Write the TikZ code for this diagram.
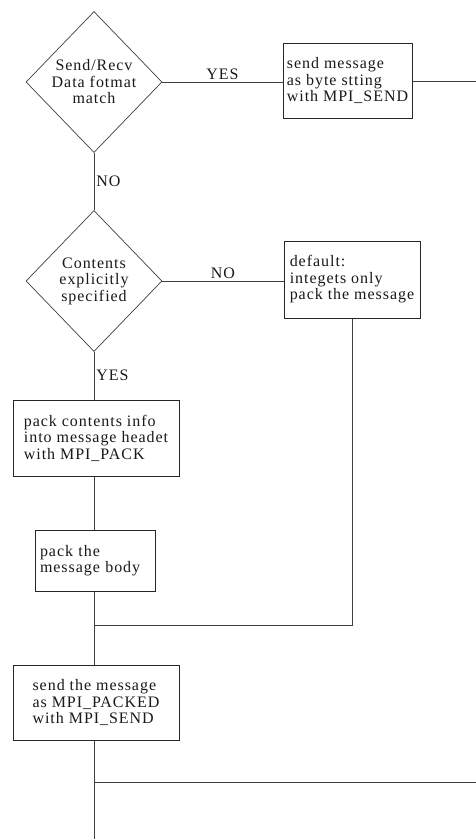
\documentclass[tikz,border=0pt]{standalone}
\usepackage{fontspec}
\setmainfont[LetterSpace=6]{Liberation Serif}
\usetikzlibrary{shapes.geometric}
\begin{document}
\begin{tikzpicture}[x=1pt,y=-1pt,
  every node/.style={font=\fontsize{16}{16.5}\selectfont, text=black!90},
  line/.style={draw=black!75, line width=0.9pt},
  dec/.style={diamond, draw=black!75, line width=0.7pt, minimum width=136pt, minimum height=141pt, inner sep=0pt, align=center},
  boxn/.style={rectangle, draw=black!85, line width=1pt, align=left, inner sep=3pt},
  lab/.style={inner sep=2pt}]
\useasboundingbox (0,0) rectangle (476,839);
\fill[white] (0,0) rectangle (476,839);

\node[dec] (d1) at (94,82) {Send/Recv\\Data fotmat\\match};
\node[boxn, minimum width=129pt, minimum height=75pt] (b1) at (347.5,80.5) {send message\\as byte stting\\with MPI\_SEND};
\node[dec] (d2) at (94,281) {Contents\\explicitly\\specified};
\node[boxn, minimum width=136pt, minimum height=77pt] (b2) at (352,279.5) {default:\\integets only\\pack the message};
\node[boxn, minimum width=166pt, minimum height=76pt] (b3) at (96,438) {pack contents info\\into message headet\\with MPI\_PACK};
\node[boxn, text width=110pt, inner xsep=5pt, minimum height=61pt] (b4) at (95,560.5) {pack the\\message body};
\node[boxn, minimum width=166pt, minimum height=75pt] (b5) at (96,702.5) {send the message\\as MPI\_PACKED\\with MPI\_SEND};

\coordinate (e1) at (476,81);
\coordinate (j1) at (94,625);
\coordinate (j2) at (94,782);
\coordinate (e2) at (476,782);
\coordinate (e3) at (94,839);

\draw[line] (d1.east) -- node[lab, above] {YES} (b1.west |- d1.east);
\draw[line] (b1.east |- e1) -- (e1);
\draw[line] (d1.south) -- node[lab, right] {NO} (d2.north);
\draw[line] (d2.east) -- node[lab, above] {NO} (b2.west |- d2.east);
\draw[line] (d2.south) -- node[lab, right] {YES} (b3.north -| d2.south);
\draw[line] (b3.south -| d2.south) -- (b4.north -| d2.south);
\draw[line] (b2.south) -- (b2.south |- j1) -- (j1);
\draw[line] (b4.south -| d2.south) -- (b5.north -| d2.south);
\draw[line] (b5.south -| d2.south) -- (e3);
\draw[line] (j2) -- (e2);
\end{tikzpicture}
\end{document}
